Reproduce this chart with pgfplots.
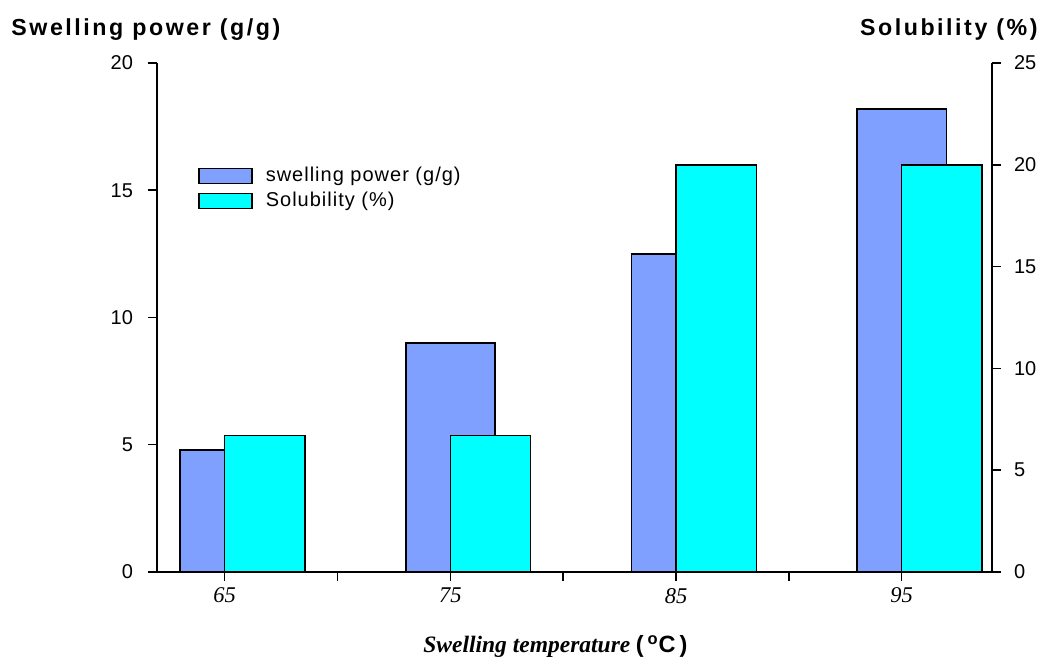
\documentclass[border=0pt]{standalone}
\usepackage{fontspec}
\setmainfont{Liberation Sans}
\newfontfamily\timesf{Liberation Serif}
\newfontfamily\arialsp[LetterSpace=11]{Liberation Sans}
\newfontfamily\arialleg[LetterSpace=5]{Liberation Sans}
\usepackage{pgfplots}
\pgfplotsset{compat=1.18}
\definecolor{swellc}{RGB}{128,160,255}
\definecolor{solc}{RGB}{0,255,255}
\begin{document}
\begin{tikzpicture}
\pgfplotsset{
  common/.style={
    width=417.5pt, height=254.5pt, scale only axis,
    xmin=62, xmax=99, ymin=0,
    axis line style={-, line width=0.75pt, black},
    tick style={line width=0.75pt, black},
    tick align=outside,
    major tick length=4.5pt, minor tick length=4.5pt,
    /pgf/number format/assume math mode=true,
    clip=false,
  },
}
\begin{axis}[common, name=ax, ymax=20,
  axis x line*=bottom, axis y line*=left,
  ytick={0,5,...,20},
  yticklabel style={font=\fontsize{10}{11}\selectfont, xshift=-4pt},
  xtick={65,75,85,95}, minor xtick={70,80,90},
  xticklabel style={font=\timesf\itshape\fontsize{11.25}{12}\selectfont},
]
\addplot[ybar, bar width=3.95, bar shift=0, fill=swellc, draw=black, line width=0.75pt]
  coordinates {(65,4.8) (75,9.0) (85,12.5) (95,18.2)};
\end{axis}
\begin{axis}[common, ymax=25,
  axis x line=none, axis y line*=right,
  ytick={0,5,...,25},
  yticklabel style={font=\fontsize{10}{11}\selectfont, xshift=3pt},
  legend style={draw=none, fill=none, inner sep=0pt,
    at={(axis description cs:0.049,0.798)}, anchor=north west,
    font=\arialleg\fontsize{10}{12}\selectfont,
    row sep=2.5pt,
    nodes={inner sep=0pt, text height=0.75em, text depth=0.25em},
    /tikz/every odd column/.append style={column sep=6.5pt}},
  legend cell align=left,
]
\addlegendimage{legend image code/.code={\draw[fill=swellc, draw=black, line width=0.75pt] (0pt,-3.75pt) rectangle (26.5pt,3.75pt);}}
\addlegendentry{swelling power (g/g)}
\addplot[ybar, bar width=3.56, bar shift=1.78, fill=solc, draw=black, line width=0.75pt,
  legend image code/.code={\draw[fill=solc, draw=black, line width=0.75pt] (0pt,-3.75pt) rectangle (26.5pt,3.75pt);}]
  coordinates {(65,6.7) (75,6.7) (85,20) (95,20)};
\addlegendentry{Solubility (\%)}
\end{axis}
\node[anchor=base west, inner sep=0pt, font=\arialsp\bfseries\fontsize{11.6}{13}\selectfont]
  at ([shift={(-73pt,13.5pt)}]ax.north west) {Swelling power (g/g)};
\node[anchor=base east, inner sep=0pt, font=\arialsp\bfseries\fontsize{11.6}{13}\selectfont]
  at ([shift={(23pt,13.5pt)}]ax.north east) {Solubility (\%)};
\node[anchor=base west, inner sep=0pt]
  at ([shift={(133pt,-40.5pt)}]ax.south west)
  {{\timesf\bfseries\itshape\fontsize{11.75}{13}\selectfont Swelling temperature}\ {\bfseries\fontsize{11.75}{13}\selectfont(\,\textsuperscript{o}C\,)}};
\pgfresetboundingbox
\path ([shift={(-78.5pt,-42.5pt)}]ax.south west) rectangle ([shift={(25.5pt,31.5pt)}]ax.north east);
\end{tikzpicture}
\end{document}
